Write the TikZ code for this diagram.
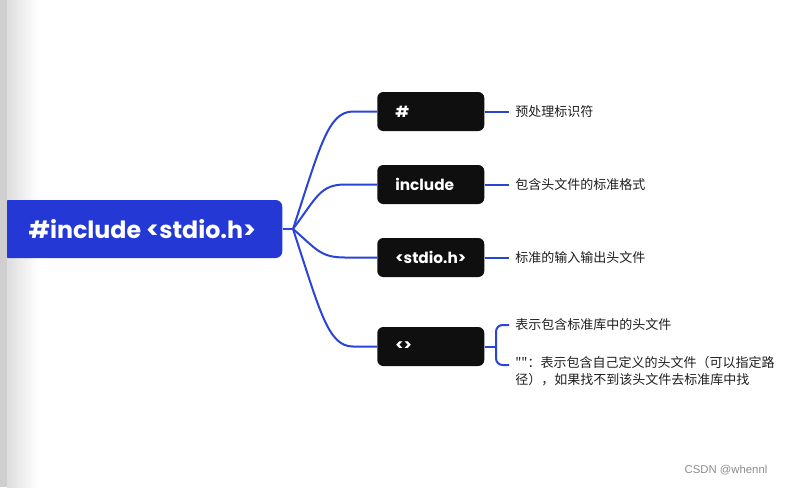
\documentclass[tikz,border=0pt]{standalone}
\usepackage{fontspec}
\setmainfont{Poppins}
\newfontfamily\cjk{Noto Sans CJK SC}
\newfontfamily\wmfont{Liberation Sans}
\usetikzlibrary{calc}
\definecolor{rootblue}{HTML}{2338D4}
\definecolor{linkblue}{HTML}{2A44D8}
\definecolor{boxblack}{HTML}{0F0F0F}
\definecolor{note}{HTML}{1E1E1E}
\tikzset{
  link/.style={draw=linkblue, line width=1.5pt},
  keybox/.style={fill=boxblack, rounded corners=4.5pt, text=white, font=\bfseries\fontsize{11.5}{13}\selectfont,
    minimum height=29.25pt, inner xsep=13.5pt, text width=53.25pt, align=left, anchor=west},
  notetext/.style={text=note, font=\cjk\fontsize{9.75}{12.75}\selectfont, inner xsep=4.5pt, anchor=west, align=left}
}
\begin{document}
\begin{tikzpicture}[x=0.75pt,y=-0.75pt]
  \useasboundingbox (0,0) rectangle (801,487);
  \shade[left color=black!13, right color=white] (7,0) rectangle (38,487);
  % root
  \node[fill=rootblue, rounded corners=5pt, text=white, font=\bfseries\fontsize{17.8}{20}\selectfont,
    minimum width=210pt, minimum height=43.5pt, anchor=west] (root) at (2,229) {\#include <stdio.h>};
  \fill[color=black!19] (0,0) rectangle (7,487);
  \coordinate (j) at (293,229);
  \draw[link] (root.east) -- (j);
  % keys
  \node[keybox] (h)   at (377,111.5) {\#};
  \node[keybox] (inc) at (377,184.5) {include};
  \node[keybox] (std) at (377,257.5) {<stdio.h>};
  \node[keybox] (ang) at (377,346.5) {<>};
  \foreach \n/\y/\xe in {h/111.5/353, inc/184.5/345, std/257.5/345, ang/346.5/353}
    \draw[link] (j) .. controls ({293+0.45*(\xe-293)},{229+0.7*(\y-229)}) and ({\xe-25},\y) .. (\xe,\y) -- (\n.west);
  % notes
  \node[notetext] (t1) at (509,111.5) {预处理标识符};
  \node[notetext] (t2) at (509,184.5) {包含头文件的标准格式};
  \node[notetext] (t3) at (509,257.5) {标准的输入输出头文件};
  \node[notetext] (t4) at (509,325) {表示包含标准库中的头文件};
  \node[notetext, anchor=north west] (t5) at (509,352) {""：表示包含自己定义的头文件（可以指定路\\径），如果找不到该头文件去标准库中找};
  \foreach \n/\t in {h/t1, inc/t2, std/t3}
    \draw[link] (\n.east) -- (\t.west);
  \coordinate (b) at (496,346.5);
  \coordinate (bb) at (509,365);
  \draw[link] (ang.east) -- (b);
  \draw[link, rounded corners=5pt] (t4.west) -| (b) |- (bb);
  % watermark
  \node[text=black!45, font=\wmfont\fontsize{8.5}{10}\selectfont, anchor=west] (wm) at (680,470) {CSDN @whennl};
\end{tikzpicture}
\end{document}
